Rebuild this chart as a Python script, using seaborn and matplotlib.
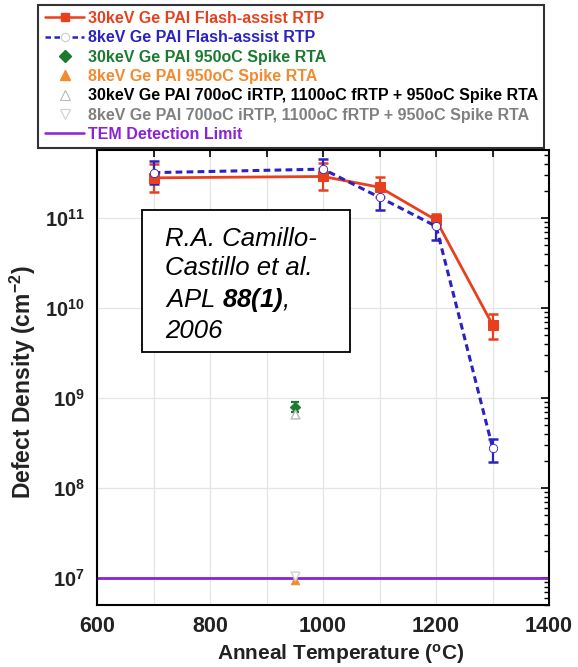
import numpy as np
import pandas as pd
import matplotlib
matplotlib.use("Agg")
import matplotlib.pyplot as plt
from matplotlib.lines import Line2D
from matplotlib.patches import Rectangle
from matplotlib.ticker import LogLocator, NullFormatter, MultipleLocator
import seaborn as sns

# Flash-assist RTP series (anneal temperature in degC, defect density in cm^-2)
temps_flash = [700, 1000, 1100, 1200, 1300]
dens_30kev = [2.8e11, 2.9e11, 2.2e11, 9.5e10, 6.5e9]
low_30kev = [1.95e11, 2.05e11, 1.7e11, 8.2e10, 4.5e9]
high_30kev = [4.0e11, 4.1e11, 2.85e11, 1.1e11, 8.6e9]

dens_8kev = [3.2e11, 3.5e11, 1.7e11, 8.1e10, 2.8e8]
low_8kev = [2.4e11, 2.7e11, 1.22e11, 5.7e10, 1.95e8]
high_8kev = [4.3e11, 4.5e11, 2.3e11, 1.05e11, 3.5e8]

# Spike RTA points at 950 degC
temp_spike = [950]
spike_30kev = [7.9e8]
spike_30kev_low = [6.9e8]
spike_30kev_high = [9.1e8]
spike_8kev = [9.4e6]
irtp_30kev = [6.6e8]
irtp_8kev = [1.05e7]

tem_limit = 1e7
x_range = [600, 1400]

legend_labels = [
    "30keV Ge PAI Flash-assist RTP",
    "8keV Ge PAI Flash-assist RTP",
    "30keV Ge PAI 950oC Spike RTA",
    "8keV Ge PAI 950oC Spike RTA",
    "30keV Ge PAI 700oC iRTP, 1100oC fRTP + 950oC Spike RTA",
    "8keV Ge PAI 700oC iRTP, 1100oC fRTP + 950oC Spike RTA",
    "TEM Detection Limit",
]

RED = "#e8401c"
BLUE = "#2b22c4"
GREEN = "#1b7a30"
ORANGE = "#f28a30"
GRAY1 = "#b8b8b8"
GRAY2 = "#d0d0d0"
PURPLE = "#8a22d6"
INK = "#222222"

sns.set_theme(style="white")
plt.rcParams["font.family"] = ["Liberation Sans", "DejaVu Sans"]
plt.rcParams["mathtext.fontset"] = "custom"
plt.rcParams["mathtext.rm"] = "Liberation Sans"
plt.rcParams["mathtext.it"] = "Liberation Sans:italic"
plt.rcParams["mathtext.bf"] = "Liberation Sans:bold"
plt.rcParams["mathtext.bfit"] = "Liberation Sans:italic:bold"
plt.rcParams["mathtext.default"] = "regular"

fig = plt.figure(figsize=(5.78, 6.67), dpi=100)
ax = fig.add_axes([0.168, 0.093, 0.782, 0.682])

df30 = pd.DataFrame({"T": temps_flash, "D": dens_30kev})
df8 = pd.DataFrame({"T": temps_flash, "D": dens_8kev})

# detection limit
ax.axhline(tem_limit, color=PURPLE, lw=2.0, zorder=2)

# error bars
ax.errorbar(temps_flash, dens_30kev,
            yerr=[np.array(dens_30kev) - np.array(low_30kev),
                  np.array(high_30kev) - np.array(dens_30kev)],
            fmt="none", ecolor=RED, elinewidth=1.6, capsize=3.5, capthick=1.8, zorder=3)
ax.errorbar(temps_flash, dens_8kev,
            yerr=[np.array(dens_8kev) - np.array(low_8kev),
                  np.array(high_8kev) - np.array(dens_8kev)],
            fmt="none", ecolor=BLUE, elinewidth=1.6, capsize=3.5, capthick=1.8, zorder=3)
ax.errorbar(temp_spike, spike_30kev,
            yerr=[np.array(spike_30kev) - np.array(spike_30kev_low),
                  np.array(spike_30kev_high) - np.array(spike_30kev)],
            fmt="none", ecolor=GREEN, elinewidth=1.4, capsize=3, capthick=1.6, zorder=3)

# flash-assist curves
sns.lineplot(data=df30, x="T", y="D", ax=ax, color=RED, lw=2.0, marker="s",
             markersize=6.5, markeredgecolor=RED, markerfacecolor=RED, zorder=4,
             estimator=None, legend=False)
sns.lineplot(data=df8, x="T", y="D", ax=ax, color=BLUE, lw=2.2, linestyle=(0, (2.2, 1.4)),
             marker="o", markersize=6, markerfacecolor="white", markeredgecolor=BLUE,
             markeredgewidth=0.6, zorder=5, estimator=None, legend=False)

# spike RTA points
sns.scatterplot(x=temp_spike, y=spike_30kev, ax=ax, marker="D", s=30, color=GREEN,
                edgecolor=GREEN, zorder=5, legend=False)
sns.scatterplot(x=temp_spike, y=irtp_30kev, ax=ax, marker="^", s=40, color="white",
                edgecolor=GRAY1, linewidth=1.0, zorder=5, legend=False)
sns.scatterplot(x=temp_spike, y=spike_8kev, ax=ax, marker="^", s=40, color=ORANGE,
                edgecolor=ORANGE, zorder=5, legend=False)
sns.scatterplot(x=temp_spike, y=irtp_8kev, ax=ax, marker="v", s=40, color="white",
                edgecolor=GRAY2, linewidth=1.0, zorder=6, legend=False)

ax.set_yscale("log")
ax.set_xlim(*x_range)
ax.set_ylim(5e6, 5.7e11)

ax.xaxis.set_major_locator(MultipleLocator(200))
ax.xaxis.set_minor_locator(MultipleLocator(100))
ax.yaxis.set_major_locator(LogLocator(base=10, numticks=20))
ax.yaxis.set_minor_locator(LogLocator(base=10, subs=np.arange(2, 10), numticks=20))
ax.yaxis.set_minor_formatter(NullFormatter())

ax.grid(True, which="major", axis="y", color="#e4e4e4", lw=0.9)
ax.grid(True, which="both", axis="x", color="#e4e4e4", lw=0.9)
ax.set_axisbelow(True)

ax.tick_params(axis="both", which="both", direction="in", top=True, right=True,
               color="black")
ax.tick_params(axis="x", which="major", length=5, width=1.2, pad=8, labelsize=15.5)
ax.tick_params(axis="x", which="minor", length=5, width=1.2)
ax.tick_params(axis="y", which="major", length=6, width=1.2, pad=9, labelsize=14.5)
ax.tick_params(axis="y", which="minor", length=3.5, width=1.0)
for lab in ax.get_xticklabels() + ax.get_yticklabels():
    lab.set_fontweight("bold")
    lab.set_color(INK)

for sp in ax.spines.values():
    sp.set_color("black")
    sp.set_linewidth(1.5)

ax.set_xlabel(r"Anneal Temperature ($^{o}$C)", fontsize=15, fontweight="bold",
              color=INK)
ax.set_ylabel(r"Defect Density (cm$^{-2}$)", fontsize=16.5, fontweight="bold",
              color=INK)
ax.xaxis.set_label_coords(0.538, -0.082)
ax.yaxis.set_label_coords(-0.13, 0.49)

# citation box
ax.add_patch(Rectangle((0.10, 0.556), 0.46, 0.312, transform=ax.transAxes,
                       facecolor="white", edgecolor="black", lw=1.3, zorder=9))
ax.text(0.150, 0.831,
        "R.A. Camillo-\nCastillo et al.\nAPL $\\mathbfit{88(1)}$,\n2006",
        transform=ax.transAxes, fontsize=18.5, style="italic", va="top", ha="left",
        linespacing=1.27, color="black", zorder=10)

handles = [
    Line2D([], [], color=RED, lw=1.8, marker="s", markersize=6),
    Line2D([], [], color=BLUE, lw=1.8, linestyle=(0, (2.2, 1.4)), marker="o",
           markersize=6, markerfacecolor="white", markeredgecolor="#c8c8e8",
           markeredgewidth=0.8),
    Line2D([], [], color=GREEN, lw=0, marker="D", markersize=6),
    Line2D([], [], color=ORANGE, lw=0, marker="^", markersize=7),
    Line2D([], [], color=GRAY1, lw=0, marker="^", markersize=7,
           markerfacecolor="white", markeredgewidth=0.8),
    Line2D([], [], color=GRAY2, lw=0, marker="v", markersize=7,
           markerfacecolor="white", markeredgewidth=0.8),
    Line2D([], [], color=PURPLE, lw=1.8),
]
text_colors = [RED, BLUE, GREEN, ORANGE, "black", "#808080", PURPLE]

leg = fig.legend(handles, legend_labels, loc="upper left",
                 bbox_to_anchor=(0.066, 0.993), frameon=True, fancybox=False,
                 prop={"size": 11.5, "weight": "bold"}, handlelength=2.5,
                 handletextpad=0.2, labelspacing=0.27, borderpad=0.4,
                 borderaxespad=0.0)
leg.get_frame().set_edgecolor("black")
leg.get_frame().set_linewidth(1.5)
for txt, c in zip(leg.get_texts(), text_colors):
    txt.set_color(c)

fig.savefig("out.png", dpi=100)
